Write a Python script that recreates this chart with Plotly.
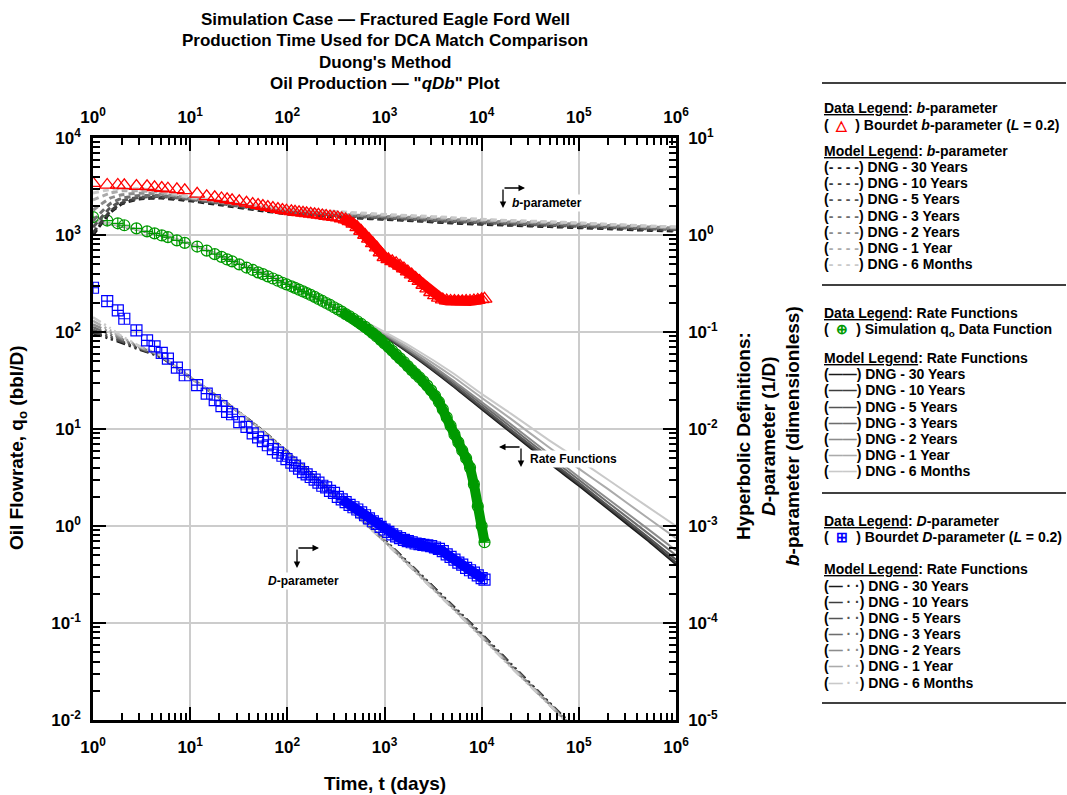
import plotly.graph_objects as go

FONT = "Liberation Sans, Arial, Helvetica, sans-serif"

# ---------------------------------------------------------------------------
# Simulation data functions (time in days)
# ---------------------------------------------------------------------------
t_data = [1.0, 1.4, 1.8, 2.1, 2.8, 3.6, 4.3, 5.1, 5.9, 7.3,
          8.8, 11.8, 14.8, 17.9, 21, 24, 27, 32, 38, 44,
          50, 56, 63, 71, 80, 89, 98,
          110, 120, 132, 145, 158, 174, 191, 209, 229, 251,
          275, 302, 331, 363, 398, 437, 479, 525, 575, 631,
          692, 759, 832, 912,
          1000, 1096, 1202, 1318, 1445, 1585, 1738, 1905, 2089, 2291,
          2512, 2754, 3020, 3311, 3631, 3981, 4365, 4786, 5248, 5754,
          6310, 6918, 7586, 8318, 9120, 10000, 10700]

# simulated oil rate q_o (bbl/D)
q_sim = [1530, 1410, 1320, 1260, 1170, 1090, 1040, 990, 950, 880,
         830, 760, 690, 635, 595, 560, 535, 498, 462, 436,
         412, 395, 375, 356, 338, 322, 310,
         296, 285, 273, 262, 252, 241, 230, 219, 209, 199,
         190, 180, 171, 162, 153, 145, 137, 129, 121, 113,
         105, 97, 90, 83,
         76, 70, 64, 58.5, 53.5, 49, 44.5, 40.5, 37, 34,
         31, 28, 25, 22, 19, 16, 13.2, 10.8, 8.8, 7.3,
         6.0, 5.0, 4.0, 2.7, 1.6, 1.0, 0.68]

# Bourdet b-parameter (L = 0.2), dimensionless
b_bourdet = [3.42, 3.28, 3.28, 3.25, 3.2, 3.18, 3.1, 3.05, 3.0, 2.95,
             2.88, 2.66, 2.5, 2.45, 2.38, 2.33, 2.28, 2.22, 2.15, 2.08,
             2.03, 1.99, 1.94, 1.89, 1.85, 1.81, 1.78,
             1.75, 1.73, 1.71, 1.69, 1.67, 1.65, 1.63, 1.61, 1.59, 1.57,
             1.55, 1.53, 1.51, 1.48, 1.44, 1.38, 1.30, 1.20, 1.10, 1.00,
             0.91, 0.82, 0.74, 0.66,
             0.59, 0.56, 0.535, 0.51, 0.48, 0.45, 0.42, 0.39, 0.36, 0.335,
             0.305, 0.28, 0.257, 0.238, 0.225, 0.216, 0.211, 0.209, 0.208, 0.207,
             0.207, 0.208, 0.209, 0.211, 0.214, 0.217, 0.22]

# Bourdet D-parameter (L = 0.2), 1/D
d_bourdet = [0.286, 0.208, 0.167, 0.137, 0.104, 0.082, 0.0712, 0.0608, 0.0532, 0.043,
             0.0358, 0.0283, 0.0232, 0.0198, 0.0172, 0.015, 0.0142, 0.0118, 0.0105, 0.0090,
             0.0082, 0.0075, 0.0068, 0.0062, 0.0057, 0.0053, 0.0049,
             0.0045, 0.0042, 0.0039, 0.0036, 0.0034, 0.0032, 0.0030, 0.0028, 0.0026, 0.0025,
             0.0023, 0.0022, 0.0020, 0.00188, 0.00176, 0.00165, 0.00156, 0.00148, 0.00138, 0.00129,
             0.00120, 0.00112, 0.00105, 0.00098,
             0.00092, 0.00087, 0.00082, 0.00078, 0.00075, 0.00072, 0.00070, 0.00068, 0.00066, 0.00065,
             0.00064, 0.00063, 0.00062, 0.00060, 0.00058, 0.00055, 0.00051, 0.00048, 0.00045, 0.00042,
             0.00040, 0.00037, 0.00035, 0.00033, 0.00031, 0.00029, 0.00028]

# ---------------------------------------------------------------------------
# Duong (DNG) model functions for each production-time case
# ---------------------------------------------------------------------------
t_model = [1, 1.5, 2, 3, 5, 10, 20, 50, 100, 200, 500, 1000, 2000, 5000,
           1e4, 2e4, 5e4, 1e5, 2e5, 5e5, 1e6]

model_cases = ["30 Years", "10 Years", "5 Years", "3 Years", "2 Years", "1 Year", "6 Months"]

# rate functions q(t), bbl/D  (rows follow model_cases)
q_dng = [
    [1400, 1300, 1230, 1120, 990, 810, 615, 425, 315, 222, 137, 90, 56, 28, 16, 9.2, 4.4, 2.6, 1.5, 0.72, 0.40],
    [1400, 1300, 1232, 1122, 992, 812, 617, 427, 317, 224, 138, 91, 57, 28.7, 16.5, 9.5, 4.6, 2.7, 1.55, 0.75, 0.42],
    [1400, 1302, 1233, 1124, 994, 814, 619, 428, 318, 225, 139, 92, 58, 29.5, 17, 9.8, 4.8, 2.8, 1.62, 0.79, 0.45],
    [1400, 1303, 1234, 1126, 996, 816, 620, 430, 320, 227, 140, 94, 60, 31, 18, 10.5, 5.1, 3.0, 1.75, 0.86, 0.50],
    [1400, 1304, 1235, 1127, 997, 817, 622, 431, 321, 228, 141, 95, 61, 32, 19, 11.2, 5.5, 3.2, 1.9, 0.95, 0.56],
    [1400, 1305, 1236, 1129, 999, 819, 623, 433, 323, 230, 143, 97, 64, 35, 21, 12.7, 6.4, 3.9, 2.4, 1.23, 0.75],
    [1400, 1306, 1237, 1130, 1000, 820, 625, 435, 325, 232, 145, 100, 68, 38, 23, 14.4, 7.6, 4.8, 3.0, 1.6, 1.0],
]

# b-parameter functions, dimensionless
b_dng = [
    [1.0, 1.7, 2.1, 2.35, 2.4, 2.25, 2.05, 1.8, 1.65, 1.57, 1.5, 1.45, 1.4, 1.33, 1.29, 1.26, 1.22, 1.19, 1.16, 1.12, 1.10],
    [1.05, 1.75, 2.15, 2.4, 2.45, 2.3, 2.1, 1.84, 1.69, 1.6, 1.52, 1.47, 1.42, 1.35, 1.31, 1.28, 1.24, 1.21, 1.18, 1.14, 1.12],
    [1.2, 1.9, 2.25, 2.45, 2.5, 2.33, 2.12, 1.86, 1.72, 1.63, 1.55, 1.5, 1.45, 1.38, 1.34, 1.3, 1.26, 1.23, 1.2, 1.16, 1.14],
    [1.4, 2.1, 2.4, 2.55, 2.55, 2.36, 2.15, 1.89, 1.75, 1.66, 1.58, 1.53, 1.48, 1.41, 1.37, 1.33, 1.29, 1.26, 1.22, 1.18, 1.16],
    [1.8, 2.4, 2.6, 2.7, 2.65, 2.4, 2.18, 1.92, 1.79, 1.7, 1.6, 1.56, 1.51, 1.44, 1.4, 1.36, 1.32, 1.29, 1.25, 1.21, 1.18],
    [2.3, 2.7, 2.85, 2.85, 2.75, 2.43, 2.22, 1.96, 1.85, 1.76, 1.66, 1.6, 1.55, 1.48, 1.43, 1.39, 1.35, 1.32, 1.28, 1.23, 1.20],
    [2.7, 2.95, 3.0, 3.0, 2.85, 2.47, 2.25, 2.0, 1.9, 1.8, 1.7, 1.63, 1.58, 1.51, 1.45, 1.41, 1.37, 1.33, 1.29, 1.24, 1.21],
]

# D-parameter functions, 1/D
d_dng = [
    [0.097, 0.085, 0.077, 0.066, 0.055, 0.034, 0.021, 0.0105, 0.0058, 0.0031, 0.00135, 0.00072, 0.00037, 0.000152,
     7.7e-5, 3.8e-5, 1.5e-5, 7.6e-6, 3.8e-6, 1.5e-6, 7.6e-7],
    [0.10, 0.087, 0.079, 0.067, 0.055, 0.034, 0.021, 0.0105, 0.0058, 0.0031, 0.00134, 0.00071, 0.00037, 0.00015,
     7.6e-5, 3.75e-5, 1.5e-5, 7.5e-6, 3.75e-6, 1.5e-6, 7.5e-7],
    [0.105, 0.09, 0.08, 0.068, 0.056, 0.034, 0.021, 0.0105, 0.0058, 0.0031, 0.00134, 0.00071, 0.00036, 0.000148,
     7.5e-5, 3.7e-5, 1.48e-5, 7.4e-6, 3.7e-6, 1.48e-6, 7.4e-7],
    [0.112, 0.094, 0.083, 0.069, 0.056, 0.034, 0.021, 0.0105, 0.0058, 0.0031, 0.00133, 0.0007, 0.00036, 0.000147,
     7.4e-5, 3.65e-5, 1.46e-5, 7.3e-6, 3.65e-6, 1.46e-6, 7.3e-7],
    [0.12, 0.099, 0.085, 0.07, 0.057, 0.034, 0.021, 0.0104, 0.0057, 0.003, 0.00132, 0.0007, 0.00036, 0.000145,
     7.3e-5, 3.6e-5, 1.45e-5, 7.2e-6, 3.6e-6, 1.45e-6, 7.2e-7],
    [0.13, 0.104, 0.088, 0.071, 0.057, 0.034, 0.021, 0.0104, 0.0057, 0.003, 0.00131, 0.00069, 0.00035, 0.000143,
     7.2e-5, 3.55e-5, 1.43e-5, 7.1e-6, 3.55e-6, 1.43e-6, 7.1e-7],
    [0.142, 0.11, 0.09, 0.072, 0.057, 0.034, 0.021, 0.0104, 0.0057, 0.003, 0.00131, 0.00069, 0.00035, 0.000142,
     7.1e-5, 3.5e-5, 1.42e-5, 7.1e-6, 3.5e-6, 1.42e-6, 7.1e-7],
]

# ---------------------------------------------------------------------------
# Styling
# ---------------------------------------------------------------------------
case_colors = ["#1a1a1a", "#3d3d3d", "#545454", "#6e6e6e", "#8c8c8c", "#ababab", "#c9c9c9"]
RED, GREEN, BLUE = "#ff0000", "#009a00", "#0000ff"

W, H = 1067, 795
L, R, T, B = 93, 676, 138, 720          # plot-area pixel box


def px(x):
    return (x - L) / (R - L)


def py(y):
    return (B - y) / (B - T)


fig = go.Figure()

# model curves (drawn first, data on top)
for i, case in enumerate(model_cases):
    c = case_colors[i]
    fig.add_trace(go.Scatter(x=t_model, y=q_dng[i], mode="lines", line=dict(color=c, width=2, shape="spline", smoothing=0.5),
                             name=f"DNG q {case}", hoverinfo="skip"))
for i, case in enumerate(model_cases):
    c = case_colors[i]
    fig.add_trace(go.Scatter(x=t_model, y=b_dng[i], mode="lines", yaxis="y2",
                             line=dict(color=c, width=3, dash="6px,4px", shape="spline", smoothing=0.5),
                             name=f"DNG b {case}", hoverinfo="skip"))
for i, case in enumerate(model_cases):
    c = case_colors[i]
    fig.add_trace(go.Scatter(x=t_model, y=d_dng[i], mode="lines", yaxis="y2",
                             line=dict(color=c, width=2.5, dash="9px,4px,2px,4px,2px,4px", shape="spline", smoothing=0.5),
                             name=f"DNG D {case}", hoverinfo="skip"))

# dense late-time portion of each data function drawn as a solid band
T_BAND = 350
band_t = [t for t in t_data if t >= T_BAND]
band_q = [v for t, v in zip(t_data, q_sim) if t >= T_BAND]
band_b = [v for t, v in zip(t_data, b_bourdet) if t >= T_BAND]
band_d = [v for t, v in zip(t_data, d_bourdet) if t >= T_BAND]
fig.add_trace(go.Scatter(x=band_t, y=band_b, mode="lines", yaxis="y2", line=dict(color=RED, width=10), hoverinfo="skip"))
fig.add_trace(go.Scatter(x=band_t, y=band_q, mode="lines", line=dict(color=GREEN, width=10), hoverinfo="skip"))
fig.add_trace(go.Scatter(x=band_t, y=band_d, mode="lines", yaxis="y2", line=dict(color=BLUE, width=10), hoverinfo="skip"))

# data functions
fig.add_trace(go.Scatter(x=t_data, y=b_bourdet, mode="markers", yaxis="y2", name="Bourdet b",
                         marker=dict(symbol="triangle-up-open", size=13, color=RED, line=dict(width=1.3, color=RED))))
fig.add_trace(go.Scatter(x=t_data, y=q_sim, mode="markers", name="Simulation qo",
                         marker=dict(symbol="circle-cross-open", size=11, color=GREEN, line=dict(width=1.2, color=GREEN))))
fig.add_trace(go.Scatter(x=t_data, y=d_bourdet, mode="markers", yaxis="y2", name="Bourdet D",
                         marker=dict(symbol="square-cross-open", size=11, color=BLUE, line=dict(width=1.2, color=BLUE))))

# carrier for the top time axis
fig.add_trace(go.Scatter(x=t_data, y=q_sim, xaxis="x2", mode="markers", marker=dict(opacity=0), hoverinfo="skip"))

# ---------------------------------------------------------------------------
# Axes
# ---------------------------------------------------------------------------
def decade_ticks(e0, e1):
    vals = [10.0 ** e for e in range(e0, e1 + 1)]
    text = [f"10<sup>{e}</sup>" for e in range(e0, e1 + 1)]
    minor = [m * 10.0 ** e for e in range(e0, e1) for m in range(2, 10)]
    return vals, text, minor


tick_font = dict(family=FONT, size=17, color="black", weight="bold")


def log_axis(e0, e1, grid, **kw):
    vals, text, minor = decade_ticks(e0, e1)
    d = dict(type="log", range=[e0, e1], tickmode="array", tickvals=vals, ticktext=text,
             ticks="inside", ticklen=13, tickwidth=2, tickcolor="black",
             minor=dict(tickmode="array", tickvals=minor, ticks="inside", ticklen=7, tickwidth=1.5,
                        tickcolor="black", showgrid=False),
             showline=True, linecolor="black", linewidth=2.5,
             showgrid=grid, gridcolor="#cccccc", gridwidth=1.5,
             tickfont=tick_font, zeroline=False, fixedrange=True)
    d.update(kw)
    return d


fig.update_layout(
    width=W, height=H,
    margin=dict(l=L, r=W - R, t=T, b=H - B, autoexpand=False),
    paper_bgcolor="white", plot_bgcolor="white",
    showlegend=False,
    font=dict(family=FONT, color="black"),
    xaxis=log_axis(0, 6, True, anchor="y", ticklabelstandoff=10),
    xaxis2=log_axis(0, 6, False, overlaying="x", side="top", anchor="y", ticklabelstandoff=5),
    yaxis=log_axis(-2, 4, True, anchor="x", ticklabelstandoff=6),
    yaxis2=log_axis(-5, 1, False, overlaying="y", side="right", anchor="x", ticklabelstandoff=6),
)

# ---------------------------------------------------------------------------
# Titles and annotations
# ---------------------------------------------------------------------------
ann = []
title_lines = ["Simulation Case \u2014 Fractured Eagle Ford Well",
               "Production Time Used for DCA Match Comparison",
               "Duong's Method",
               "Oil Production \u2014 \"<i>qDb</i>\" Plot"]
for k, line in enumerate(title_lines):
    ann.append(dict(text=line, x=px(385), y=py(19 + 21.5 * k), xref="paper", yref="paper",
                    xanchor="center", yanchor="middle", showarrow=False,
                    font=dict(family=FONT, size=17, weight="bold")))

axis_title_font = dict(family=FONT, size=19, weight="bold")
ann.append(dict(text="Time, t (days)", x=px(385), y=py(783), xref="paper", yref="paper",
                xanchor="center", yanchor="middle", showarrow=False, font=axis_title_font))
ann.append(dict(text="Oil Flowrate, q<sub>o</sub> (bbl/D)", x=px(18), y=py(448), xref="paper", yref="paper",
                xanchor="center", yanchor="middle", showarrow=False, textangle=-90, font=axis_title_font))
ann.append(dict(text="Hyperbolic Definitions:<br><i>D</i>-parameter (1/D)<br><i>b</i>-parameter (dimensionless)",
                x=px(768), y=py(436), xref="paper", yref="paper",
                xanchor="center", yanchor="middle", showarrow=False, textangle=-90, font=axis_title_font))

# bracket markers pointing at the curve families
def bracket(cx, cy, hx, vy, label, lx, ly):
    lab_font = dict(family=FONT, size=12, weight="bold")
    ann.append(dict(text="", x=px(hx), y=py(cy), xref="paper", yref="paper", ax=cx - hx, ay=0,
                    showarrow=True, arrowhead=2, arrowsize=1, arrowwidth=1.3, arrowcolor="black", standoff=0))
    ann.append(dict(text="", x=px(cx), y=py(vy), xref="paper", yref="paper", ax=0, ay=cy - vy,
                    showarrow=True, arrowhead=2, arrowsize=1, arrowwidth=1.3, arrowcolor="black", standoff=0))
    ann.append(dict(text=label, x=px(lx), y=py(ly), xref="paper", yref="paper", xanchor="center",
                    yanchor="middle", showarrow=False, font=lab_font, bgcolor="white"))


bracket(503, 188, 525, 208, "<i>b</i>-parameter", 547, 203)
bracket(521, 447, 499, 467, "Rate Functions", 573, 459)
bracket(297, 548, 319, 568, "<i>D</i>-parameter", 303, 581)

# legend panel
leg_font = dict(family=FONT, size=14, weight="bold")


def leg(y, text):
    ann.append(dict(text=text, x=px(822), y=py(y), xref="paper", yref="paper", xanchor="left",
                    yanchor="middle", showarrow=False, align="left", font=leg_font))


leg(108, "<u>Data Legend</u>: <i>b</i>-parameter")
leg(125, f"(  <span style='color:{RED}'>\u25b3</span>  ) Bourdet <i>b</i>-parameter (<i>L</i> = 0.2)")
leg(151, "<u>Model Legend</u>: <i>b</i>-parameter")
for k, case in enumerate(model_cases):
    leg(167.3 + 16.1 * k, f"(<span style='color:{case_colors[k]}'>- - - -</span>) DNG - {case}")

leg(313, "<u>Data Legend</u>: Rate Functions")
leg(329.5, f"(  <span style='color:{GREEN}'>\u2295</span>  ) Simulation q<sub>o</sub> Data Function")
leg(357.5, "<u>Model Legend</u>: Rate Functions")
for k, case in enumerate(model_cases):
    leg(374.3 + 16.1 * k, f"(<span style='color:{case_colors[k]}'>\u2014\u2014</span>) DNG - {case}")

leg(520.7, "<u>Data Legend</u>: <i>D</i>-parameter")
leg(536.5, f"(  <span style='color:{BLUE}'>\u229e</span>  ) Bourdet <i>D</i>-parameter (<i>L</i> = 0.2)")
leg(569.3, "<u>Model Legend</u>: Rate Functions")
for k, case in enumerate(model_cases):
    leg(585.7 + 16.15 * k, f"(<span style='color:{case_colors[k]}'>\u2014 \u00b7 \u00b7</span>) DNG - {case}")

shapes = []
for yy in (83, 285, 493, 703):
    shapes.append(dict(type="line", xref="paper", yref="paper", x0=px(822), x1=px(1066),
                       y0=py(yy), y1=py(yy), line=dict(color="black", width=1.5)))

fig.update_layout(annotations=ann, shapes=shapes)

fig.write_html("out.html")
